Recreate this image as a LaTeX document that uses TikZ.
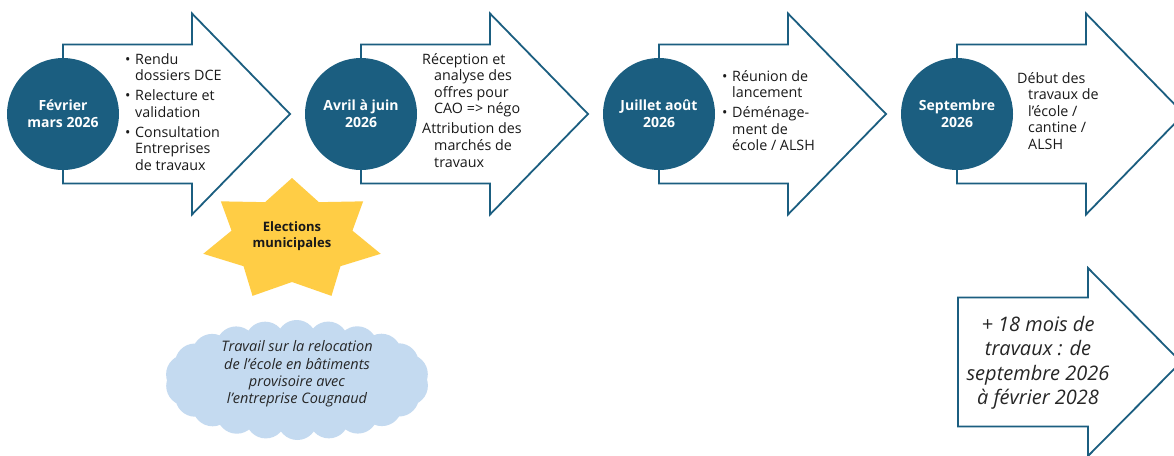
\documentclass[tikz,border=0pt]{standalone}
\usepackage{fontspec}
\setmainfont{Open Sans}
\usetikzlibrary{calc}
\definecolor{timeblue}{HTML}{1B5E80}
\definecolor{stargold}{HTML}{FFCD45}
\definecolor{cloudblue}{HTML}{C4DAF0}
\newcommand{\itm}{\makebox[10pt][l]{\textbullet}}
\newcommand{\ind}{\hspace*{10pt}}

\begin{document}
\begin{tikzpicture}[x=1pt,y=-1pt]
	\tikzstyle{arrowline} = [draw=timeblue, line width=1.8pt, fill=white, line join=miter]
	\tikzstyle{datecircle} = [circle, fill=timeblue, inner sep=0pt, minimum size=112pt, text=white, align=center, font=\fontsize{14}{17}\selectfont\bfseries]
	\tikzstyle{steptext} = [anchor=base west, inner sep=0pt, text=black!90, font=\fontsize{14.3}{16.6}\selectfont]
	\tikzstyle{startext} = [inner sep=0pt, align=center, text=black!90, font=\fontsize{13}{16}\selectfont\bfseries]
	\tikzstyle{cloudtext} = [inner sep=0pt, align=center, text=black!85, font=\fontsize{14.5}{17.2}\selectfont\itshape]
	\clip (0,0) rectangle (1174,455);
	\fill[white] (0,0) rectangle (1174,455);
	\coordinate (A1) at (63,114);
	\coordinate (A2) at (361,114);
	\coordinate (A3) at (659,114);
	\coordinate (A4) at (957,114);
	\coordinate (B) at (958,362);
	\coordinate (N) at (297,380);
	% big arrows of the timeline
	\draw[arrowline] ($(A1)+(0,-69.5)$) -- ++(129,0) -- ++(0,-31) -- ++(98,100.5) -- ++(-98,100.5) -- ++(0,-31) -- ++(-129,0) -- cycle;
	\draw[arrowline] ($(A2)+(0,-69.5)$) -- ++(129,0) -- ++(0,-31) -- ++(98,100.5) -- ++(-98,100.5) -- ++(0,-31) -- ++(-129,0) -- cycle;
	\draw[arrowline] ($(A3)+(0,-69.5)$) -- ++(129,0) -- ++(0,-31) -- ++(98,100.5) -- ++(-98,100.5) -- ++(0,-31) -- ++(-129,0) -- cycle;
	\draw[arrowline] ($(A4)+(0,-69.5)$) -- ++(129,0) -- ++(0,-31) -- ++(98,100.5) -- ++(-98,100.5) -- ++(0,-31) -- ++(-129,0) -- cycle;
	\draw[arrowline] ($(B)+(0,-64.5)$) -- ++(130,0) -- ++(0,-29.5) -- ++(93,94) -- ++(-93,94) -- ++(0,-29.5) -- ++(-130,0) -- cycle;
	% dates
	\node[datecircle] (C1) at (A1) {Février\\mars 2026};
	\node[datecircle] (C2) at (A2) {Avril à juin\\2026};
	\node[datecircle] (C3) at (A3) {Juillet août\\2026};
	\node[datecircle] (C4) at (A4) {Septembre\\2026};
	% what happens
	\node[steptext] (T1) at (125,64) {\begin{tabular}[t]{@{}l@{}}\itm Rendu\\ \ind dossiers DCE\\[3.4pt] \itm Relecture et\\ \ind validation\\[3.4pt] \itm Consultation\\ \ind Entreprises\\ \ind de travaux\end{tabular}};
	\node[steptext] (T2) at (422,64) {\begin{tabular}[t]{@{}l@{}}Réception et\\ \hspace*{12pt}analyse des\\ \hspace*{12pt}offres pour\\ \hspace*{12pt}CAO => négo\\[3.4pt] Attribution des\\ \hspace*{12pt}marchés de\\ \hspace*{12pt}travaux\end{tabular}};
	\node[steptext] (T3) at (722,81) {\begin{tabular}[t]{@{}l@{}}\itm Réunion de\\ \ind lancement\\[3.4pt] \itm Déménage-\\ \ind ment de\\ \ind école / ALSH\end{tabular}};
	\node[steptext] (T4) at (1017,83) {\begin{tabular}[t]{@{}l@{}}Début des\\ \hspace*{11pt}travaux de\\ \hspace*{11pt}l’école /\\ \hspace*{11pt}cantine /\\ \hspace*{11pt}ALSH\end{tabular}};
	% star
	\fill[stargold, shift={(292,240)}] (-90:91 and 62) \foreach \i in {1,...,6} { -- ({-90+\i*360/7-360/14}:62 and 42) -- ({-90+\i*360/7}:91 and 62) } -- ({-90-360/14}:62 and 42) -- cycle;
	\node[startext] (S) at (292,236) {Elections\\municipales};
	% cloud
	\fill[cloudblue, shift={(N)}] (0,0) ellipse (112 and 40) \foreach \i in {0,...,21} { ({\i*360/22+8}:112 and 40) circle (20) };
	\node[cloudtext] (NT) at ($(N)+(0,-6)$) {Travail sur la relocation\\de l’école en bâtiments\\provisoire avec\\l’entreprise Cougnaud};
	% duration
	\node[cloudtext, font=\fontsize{20}{24.5}\selectfont\itshape] (D) at (1038,363) {+ 18 mois de\\travaux : de\\septembre 2026\\à février 2028};
\end{tikzpicture}
\end{document}
